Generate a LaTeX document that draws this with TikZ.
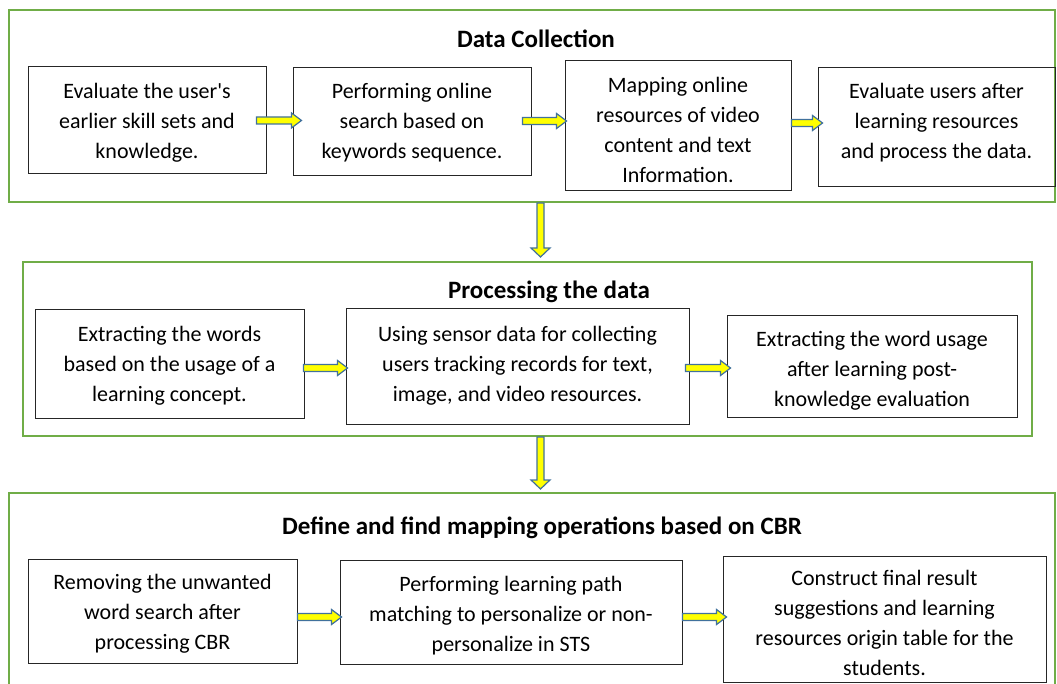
\documentclass[tikz,border=0pt]{standalone}
\usepackage{fontspec}
\setmainfont{Carlito}
\newfontfamily\bodyfont{Carlito}
\usetikzlibrary{calc}
\definecolor{grn}{HTML}{70AD47}
\definecolor{abl}{HTML}{41719C}
\definecolor{ylw}{HTML}{FFFF00}
\tikzset{
  group/.style={draw=grn, line width=2pt, inner sep=0pt},
  stepbox/.style={draw=black!85, line width=1pt, inner sep=0pt},
  boxtext/.style={align=center, inner sep=0pt, font=\bodyfont\fontsize{22}{30}\selectfont},
  title/.style={font=\bodyfont\bfseries\fontsize{25}{30}\selectfont},
  blockarrow/.style={draw=abl, fill=ylw, line width=1.2pt, line join=miter}
}
\newcommand{\blockR}[2]{%
  \path[blockarrow] let \p1=(#1), \p2=(#2) in
    (\x1,\y1+3.5pt) -- (\x2-10pt,\y1+3.5pt) -- (\x2-10pt,\y1+7.5pt) -- (\x2,\y1)
    -- (\x2-10pt,\y1-7.5pt) -- (\x2-10pt,\y1-3.5pt) -- (\x1,\y1-3.5pt) -- cycle;}
\newcommand{\blockD}[2]{%
  \path[blockarrow] let \p1=(#1), \p2=(#2) in
    (\x1-3.5pt,\y1) -- (\x1-3.5pt,\y2+9pt) -- (\x1-9.5pt,\y2+9pt) -- (\x1,\y2)
    -- (\x1+9.5pt,\y2+9pt) -- (\x1+3.5pt,\y2+9pt) -- (\x1+3.5pt,\y1) -- cycle;}
\begin{document}
\begin{tikzpicture}[x=1pt,y=-1pt]
\useasboundingbox (0,0) rectangle (1057,684);
\clip (0,0) rectangle (1057,684);
% groups
\node[group, minimum width=1046pt, minimum height=192pt] (dc) at (532,106) {};
\node[group, minimum width=1009pt, minimum height=174pt] (pd) at (527.5,349) {};
\node[group, minimum width=1046pt, minimum height=210pt] (df) at (532,598) {};
% titles
\node[title] (t1) at (536,39) {Data Collection};
\node[title] (t2) at (549,291.5) {Processing the data};
\node[title] (t3) at (542,527.5) {Define and find mapping operations based on CBR};
% row 1
\node[stepbox, minimum width=238pt, minimum height=107pt,
  label={[boxtext,yshift=-2pt]center:Evaluate the user's\\earlier skill sets and\\knowledge.}] (A) at (147,120.5) {};
\node[stepbox, minimum width=238pt, minimum height=108pt,
  label={[boxtext,yshift=-1pt]center:Performing online\\search based on\\keywords sequence.}] (B) at (412,122) {};
\node[stepbox, minimum width=226pt, minimum height=130pt,
  label={[boxtext,yshift=-3.5pt]center:Mapping online\\resources of video\\content and text\\Information.}] (C) at (678,126) {};
\node[stepbox, minimum width=237pt, minimum height=119pt,
  label={[boxtext,yshift=5pt]center:Evaluate users after\\learning resources\\and process the data.}] (D) at (936.5,127.5) {};
% row 2
\node[stepbox, minimum width=269pt, minimum height=108pt,
  label={[boxtext,yshift=-2pt]center:Extracting the words\\based on the usage of a\\learning concept.}] (E) at (169.5,364) {};
\node[stepbox, minimum width=343pt, minimum height=115pt,
  label={[boxtext,yshift=1pt]center:Using sensor data for collecting\\users tracking records for text,\\image, and video resources.}] (F) at (517.5,366.5) {};
\node[stepbox, minimum width=290pt, minimum height=101pt,
  label={[boxtext,yshift=-4.5pt]center:Extracting the word usage\\after learning post-\\knowledge evaluation}] (G) at (872,366.5) {};
% row 3
\node[stepbox, minimum width=269pt, minimum height=104pt,
  label={[boxtext,yshift=-3pt]center:Removing the unwanted\\word search after\\processing CBR}] (H) at (162.5,611) {};
\node[stepbox, minimum width=342pt, minimum height=104pt,
  label={[boxtext,yshift=-3.5pt]center:Performing learning path\\matching to personalize or non-\\personalize in STS}] (I) at (511,612) {};
\node[stepbox, minimum width=323pt, minimum height=126pt,
  label={[boxtext,yshift=-4pt]center:Construct final result\\suggestions and learning\\resources origin table for the\\students.}] (J) at (884.5,619) {};
% arrows
\blockR{[xshift=-10pt]A.east}{[xshift=9pt]B.west}
\blockR{[xshift=-9pt,yshift=1pt]B.east}{[xshift=2pt]C.west}
\blockR{[yshift=3pt]C.east}{[xshift=5pt]D.west}
\blockR{[xshift=-1pt,yshift=-4pt]E.east}{[xshift=2pt]F.west}
\blockR{[xshift=-4pt,yshift=-1.5pt]F.east}{[xshift=4pt]G.west}
\blockR{[yshift=-6pt]H.east}{[xshift=2pt]I.west}
\blockR{[yshift=-5pt]I.east}{[xshift=4pt]J.west}
\blockD{[xshift=8.5pt]dc.south}{[yshift=4pt]pd.north}
\blockD{[xshift=13pt]pd.south}{[yshift=3pt]df.north}
\end{tikzpicture}
\end{document}
